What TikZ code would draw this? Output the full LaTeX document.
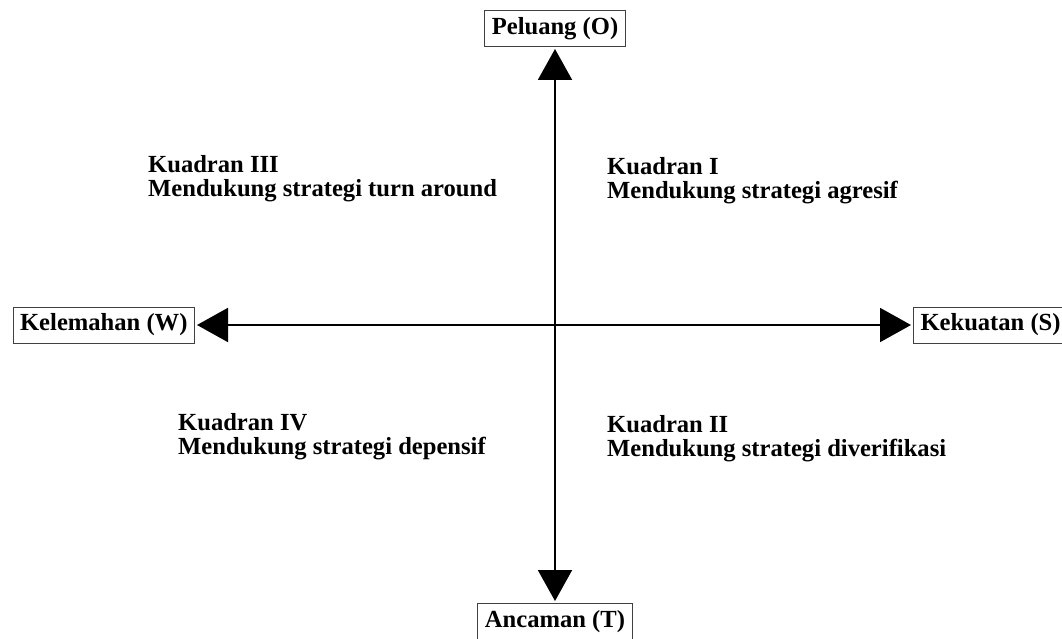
\documentclass[tikz,border=0pt]{standalone}
\usepackage{fontspec}
\setmainfont{Liberation Serif}
\usetikzlibrary{arrows.meta}

\begin{document}
\begin{tikzpicture}[x=1pt,y=-1pt,
  faktor/.style={draw=black!75, line width=1pt, font=\fontsize{24.6}{24.6}\selectfont\bfseries,
    inner xsep=7pt, inner ysep=0pt, minimum height=36pt},
  kuadran/.style={anchor=north west, inner sep=0pt, align=left,
    font=\fontsize{24.6}{24.5}\selectfont\bfseries},
  sumbu/.style={line width=2pt, {Triangle[width=34pt,length=31pt]}-{Triangle[width=34pt,length=31pt]},
    shorten <=2pt, shorten >=2pt}]
  \useasboundingbox (0,0) rectangle (1062,639);

  % faktor SWOT di ujung sumbu
  \node[faktor, anchor=south] (peluang) at (555,47) {Peluang (O)};
  \node[faktor, anchor=north] (ancaman) at (555,603) {Ancaman (T)};
  \node[faktor, anchor=east] (kelemahan) at (195,325) {Kelemahan (W)};
  \node[faktor, anchor=west] (kekuatan) at (913,325) {Kekuatan (S)};

  % sumbu
  \draw[sumbu] (peluang.south) -- (ancaman.north);
  \draw[sumbu] (kelemahan.east) -- (kekuatan.west);

  % kuadran
  \node[kuadran] (k3) at (148,155) {Kuadran III\\Mendukung strategi turn around};
  \node[kuadran] (k1) at (607,157) {Kuadran I\\Mendukung strategi agresif};
  \node[kuadran] (k4) at (178,413) {Kuadran IV\\Mendukung strategi depensif};
  \node[kuadran] (k2) at (607,415) {Kuadran II\\Mendukung strategi diverifikasi};
\end{tikzpicture}
\end{document}
